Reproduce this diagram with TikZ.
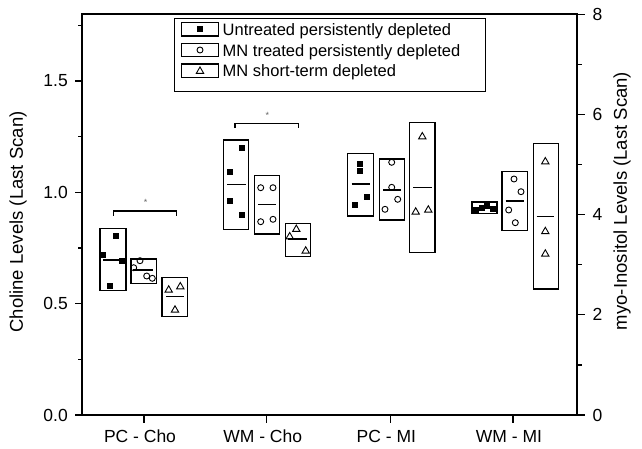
\documentclass[tikz,border=0pt]{standalone}
\usepackage{fontspec}
\setmainfont{Liberation Sans}
\usetikzlibrary{shapes.geometric}
\tikzset{
 sqm/.style={fill=black, minimum size=6pt, inner sep=0pt},
 cim/.style={draw, circle, line width=0.9pt, minimum size=6pt, inner sep=0pt},
 trm/.style={draw, regular polygon, regular polygon sides=3, line width=0.9pt, minimum size=8.5pt, inner sep=0pt},
 boxr/.style={line width=1.3pt},
 med/.style={line width=1.1pt},
 ax/.style={line width=1.6pt},
 tk/.style={line width=1.3pt},
 tl/.style={font=\fontsize{17.5}{20}\selectfont, inner sep=0pt},
 lgt/.style={font=\fontsize{16.5}{19}\selectfont, inner sep=0pt, anchor=base west},
 axtitle/.style={font=\fontsize{18.5}{21}\selectfont, inner sep=0pt, rotate=90},
 star/.style={font=\fontsize{9}{10}\selectfont, text=black!60, inner sep=0pt},
}
\begin{document}
\begin{tikzpicture}[x=1pt,y=-1pt]
\useasboundingbox (0,0) rectangle (642,448);
% frame
\draw[ax] (82,14) rectangle (577,415);
% left ticks
\foreach \v/\l/\n in {0/0.0/a, 0.5/0.5/b, 1/1.0/c, 1.5/1.5/d} {
  \draw[tk] (82,{415-\v*222.7}) -- ++(-7,0);
  \node[tl, anchor=east] (ly\n) at (68,{415-\v*222.7}) {\l};
}
\foreach \v in {0.25,0.75,1.25,1.75} {
  \draw[tk] (82,{415-\v*222.7}) -- ++(-4,0);
}
% right ticks
\foreach \v/\n in {0/a,2/b,4/c,6/d,8/e} {
  \draw[tk] (577,{415-\v*50.1}) -- ++(8,0);
  \node[tl, anchor=west] (ry\n) at (592.5,{415-\v*50.1}) {\v};
}
\foreach \v in {1,3,5,7} {
  \draw[tk] (577,{415-\v*50.1}) -- ++(5,0);
}
% bottom ticks and labels
\foreach \x/\l/\n in {144/PC - Cho/a, 266.7/WM - Cho/b, 390.3/PC - MI/c, 513/WM - MI/d} {
  \draw[tk] (\x,415) -- (\x,423);
  \node[tl, anchor=base] (bx\n) at (\x-4,442.3) {\l};
}
% axis titles
\node[axtitle] (ylab) at (18,222) {Choline Levels (Last Scan)};
\node[axtitle] (rlab) at (622,201) {myo-Inositol Levels (Last Scan)};

% legend
\draw[line width=1.2pt] (174.7,18.3) rectangle (485.3,91.7);
\draw[line width=1.1pt] (181.7,22.7) rectangle (218.3,36);
\draw[line width=1.1pt] (181.7,43.3) rectangle (218.3,56.7);
\draw[line width=1.1pt] (181.7,64) rectangle (218.3,77.3);
\node[sqm] (lg1) at (200,29.3) {};
\node[cim] (lg2) at (200,50) {};
\node[trm] (lg3) at (200,71.2) {};
\node[lgt] (lt1) at (222.5,35.5) {Untreated persistently depleted};
\node[lgt] (lt2) at (222.5,56.3) {MN treated persistently depleted};
\node[lgt] (lt3) at (222.5,76.9) {MN short-term depleted};

% ===== Group 1: PC - Cho
\draw[boxr] (100,228.3) rectangle (126,290.7);
\draw[med] (103,260) -- (123,260);
\node[sqm] (g1a) at (116,236.3) {};
\node[sqm] (g1b) at (103.3,254.7) {};
\node[sqm] (g1c) at (122.3,260.7) {};
\node[sqm] (g1d) at (110,286.3) {};
\draw[boxr] (131,259) rectangle (156.7,283.7);
\draw[med] (133,270) -- (153,270);
\node[cim] (g1e) at (133.7,267.7) {};
\node[cim] (g1f) at (140,260.7) {};
\node[cim] (g1g) at (146.7,276) {};
\node[cim] (g1h) at (152.3,278.3) {};
\draw[boxr] (162,277.3) rectangle (187.3,316.7);
\draw[med] (166,296.7) -- (184,296.7);
\node[trm] (g1i) at (168.7,290) {};
\node[trm] (g1j) at (180.3,286.7) {};
\node[trm] (g1k) at (175,310) {};
\draw[line width=1.1pt] (113.3,215.5) -- (113.3,211) -- (176.7,211) -- (176.7,215.5);
\node[star] (s1) at (145.7,202) {*};

% ===== Group 2: WM - Cho
\draw[boxr] (223.7,140) rectangle (248.7,229.3);
\draw[med] (227,184.3) -- (245.7,184.3);
\node[sqm] (g2a) at (242.3,148.3) {};
\node[sqm] (g2b) at (229.7,171.7) {};
\node[sqm] (g2c) at (229.7,200.7) {};
\node[sqm] (g2d) at (242.3,215) {};
\draw[boxr] (254.7,175.3) rectangle (279.3,234);
\draw[med] (258.3,204.3) -- (276,204.3);
\node[cim] (g2e) at (260.7,187.7) {};
\node[cim] (g2f) at (273,187.7) {};
\node[cim] (g2g) at (260.7,221.7) {};
\node[cim] (g2h) at (273,219.3) {};
\draw[boxr] (285.3,223.3) rectangle (310.3,256.7);
\draw[med] (288.3,239) -- (306.7,239);
\node[trm] (g2i) at (296.3,229.3) {};
\node[trm] (g2j) at (289.7,236.7) {};
\node[trm] (g2k) at (305.7,251) {};
\draw[line width=1.1pt] (235,128) -- (235,123.3) -- (298.3,123.3) -- (298.3,128);
\node[star] (s2) at (267.3,115.3) {*};

% ===== Group 3: PC - MI
\draw[boxr] (347.7,153.3) rectangle (373.7,216);
\draw[med] (351.7,184) -- (370,184);
\node[sqm] (g3a) at (360,163.5) {};
\node[sqm] (g3b) at (360,170.5) {};
\node[sqm] (g3c) at (367,196.7) {};
\node[sqm] (g3d) at (355,205) {};
\draw[boxr] (379.3,159) rectangle (404.3,220);
\draw[med] (383.3,190) -- (400.7,190);
\node[cim] (g3e) at (391.7,162.3) {};
\node[cim] (g3f) at (391.7,187.3) {};
\node[cim] (g3g) at (397.7,199.3) {};
\node[cim] (g3h) at (385,209.3) {};
\draw[boxr] (409.7,122.3) rectangle (435,252.7);
\draw[med] (413.3,187.3) -- (431.7,187.3);
\node[trm] (g3i) at (422.3,136.7) {};
\node[trm] (g3j) at (415.7,212) {};
\node[trm] (g3k) at (428.3,210) {};

% ===== Group 4: WM - MI
\draw[boxr] (472,202) rectangle (497,213.5);
\draw[med] (474,207.5) -- (495,207.5);
\node[sqm] (g4a) at (476,209.5) {};
\node[sqm] (g4b) at (482,208) {};
\node[sqm] (g4c) at (487,206) {};
\node[sqm] (g4d) at (493,208.5) {};
\draw[boxr] (502,171.7) rectangle (527.7,230.7);
\draw[med] (505.7,201) -- (523.7,201);
\node[cim] (g4e) at (514,179) {};
\node[cim] (g4f) at (521,191.7) {};
\node[cim] (g4g) at (508.7,210) {};
\node[cim] (g4h) at (515.3,222.7) {};
\draw[boxr] (533.3,143.3) rectangle (558.3,289);
\draw[med] (536.7,216.7) -- (554.3,216.7);
\node[trm] (g4i) at (545.3,161.7) {};
\node[trm] (g4j) at (545.3,231.5) {};
\node[trm] (g4k) at (545.3,254) {};
\end{tikzpicture}
\end{document}
